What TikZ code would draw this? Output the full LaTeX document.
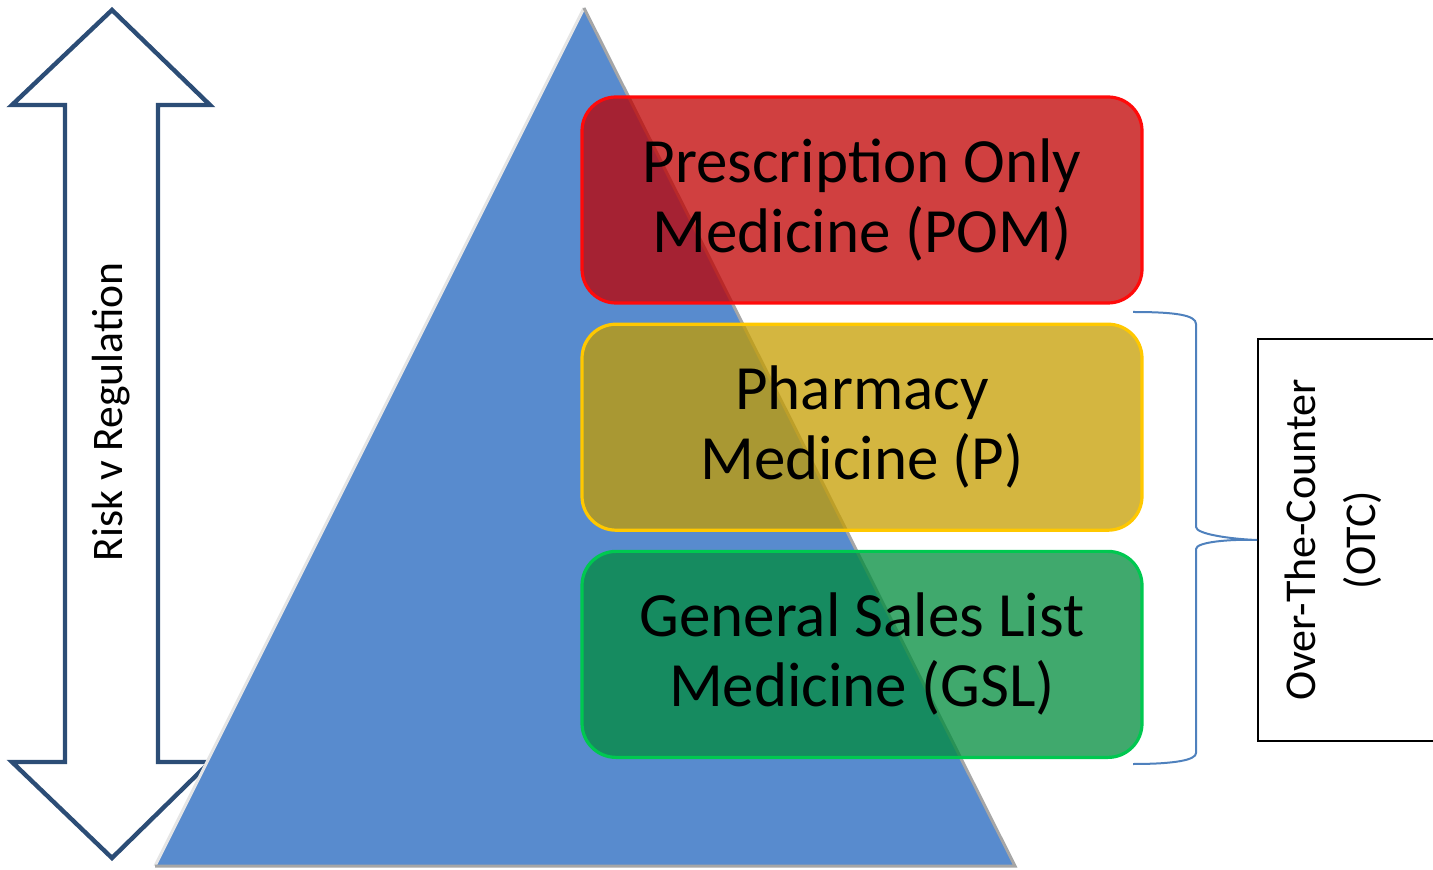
\documentclass[tikz,border=0pt]{standalone}
\usepackage{fontspec}
\setmainfont{Carlito}
\usetikzlibrary{positioning}
\definecolor{arrowblue}{RGB}{44,77,118}
\definecolor{pyrblue}{RGB}{88,139,206}
\definecolor{pomred}{RGB}{192,0,0}
\definecolor{pomline}{RGB}{255,10,10}
\definecolor{pyellow}{RGB}{197,157,0}
\definecolor{pline}{RGB}{255,200,0}
\definecolor{gslgreen}{RGB}{0,140,60}
\definecolor{gslline}{RGB}{0,200,80}
\definecolor{bracecol}{RGB}{79,129,189}
\tikzset{x=0.5pt,y=-0.5pt,
  tier/.style={rounded corners=17pt,line width=1.6pt,minimum width=280pt,minimum height=103pt,
    fill opacity=0.75,text opacity=1,align=center,font=\fontsize{31.5}{35}\selectfont},
  sidelabel/.style={rotate=90,align=center,font=\fontsize{22}{30}\selectfont}}

\begin{document}
\begin{tikzpicture}
              \useasboundingbox (0,0) rectangle (1433,870);
              \clip (0,0) rectangle (1433,870);

              % double arrow
              \draw[line width=2.2pt,arrowblue,fill=white,line join=miter]
              (112,10) -- (210,105) -- (158,105) -- (158,762) -- (210,762) -- (112,858)
              -- (12,762) -- (65,762) -- (65,105) -- (12,105) -- cycle;
              \node[rotate=90,font=\fontsize{21.8}{26}\selectfont] (risk) at (111,412) {Risk v Regulation};

              % pyramid
              \coordinate (apex) at (584,8);
              \coordinate (bl) at (155,866);
              \coordinate (br) at (1015,866);
              \fill[pyrblue] (apex) -- (br) -- (bl) -- cycle;
              \draw[gray!20,line width=1.5pt] (bl) -- (apex);
              \draw[gray!70,line width=1.5pt] (apex) -- (br) -- (bl);

              % tiers
              \node[tier,draw=pomline,fill=pomred] (pom) at (862,200) {Prescription Only\\Medicine (POM)};
              \node[tier,draw=pline,fill=pyellow] (pm) [below=9pt of pom] {Pharmacy\\Medicine (P)};
              \node[tier,draw=gslline,fill=gslgreen] (gsl) [below=9pt of pm] {General Sales List\\Medicine (GSL)};

              % over the counter
              \node[draw,line width=1pt,minimum width=95pt,minimum height=200.5pt] (otc) at (1353,540) {};
              \node[sidelabel] (otclabel) at (1333,540) {Over-The-Counter\\(OTC)};
              \draw[bracecol,line width=1pt]
              (1133,312) .. controls (1175,312) and (1196,315) .. (1196,324)
              -- (1196,527) .. controls (1196,534) and (1230,539) .. (otc.west)
              .. controls (1230,539) and (1196,542) .. (1196,549)
              -- (1196,753) .. controls (1196,760) and (1175,764) .. (1133,764);
            \end{tikzpicture}
\end{document}
